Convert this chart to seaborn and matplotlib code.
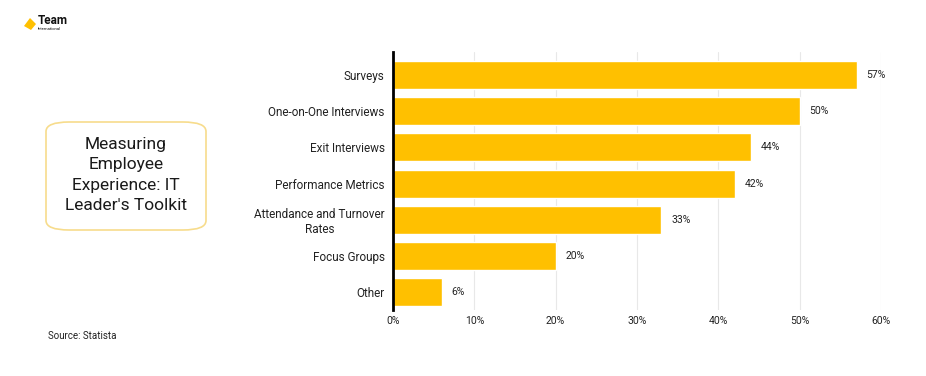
import matplotlib
matplotlib.use("Agg")
import matplotlib.pyplot as plt
from matplotlib.patches import FancyBboxPatch, Polygon
import seaborn as sns
import pandas as pd

categories = ["Surveys", "One-on-One Interviews", "Exit Interviews", "Performance Metrics",
              "Attendance and Turnover\nRates", "Focus Groups", "Other"]
values = [57, 50, 44, 42, 33, 20, 6]
xticks = [0, 10, 20, 30, 40, 50, 60]
xtick_labels = ["0%", "10%", "20%", "30%", "40%", "50%", "60%"]
title = "Measuring\nEmployee\nExperience: IT\nLeader's Toolkit"
source = "Source: Statista"

sns.set_theme(style="white")
plt.rcParams['font.family'] = ['Roboto', 'DejaVu Sans']

df = pd.DataFrame({"cat": categories, "val": values})
bar_color = "#FFC000"

fig = plt.figure(figsize=(9.26, 3.76), dpi=100)
fig.patch.set_facecolor("white")
ax = fig.add_axes([393/926, 1-310/376, (881-393)/926, (310-52)/376])

sns.barplot(data=df, x="val", y="cat", color=bar_color, width=0.775, ax=ax, saturation=1)
ax.set_xlim(0, 60)
ax.set_ylim(6.5, -0.64)
ax.set_xticks(xticks)
ax.set_xticklabels(xtick_labels, fontsize=7.5, color="#222222")
ax.tick_params(axis="y", labelsize=8.5, colors="#222222", length=0, pad=6)
ax.tick_params(axis="x", length=0, pad=4)
for lab in ax.get_yticklabels():
    lab.set_multialignment("center")
ax.set_xlabel("")
ax.set_ylabel("")
ax.grid(axis="x", color="#e8e8e8", linewidth=0.8)
ax.set_axisbelow(True)
for s in ["top", "right", "bottom"]:
    ax.spines[s].set_visible(False)
ax.spines["left"].set_color("black")
ax.spines["left"].set_linewidth(2)
ax.spines["left"].set_zorder(5)

for i, v in enumerate(values):
    ax.text(v + 1.2, i, f"{v}%", va="center", ha="left", fontsize=7.5, color="#222222")

# Title box
box = FancyBboxPatch((46/926, 1-230/376), (206-46)/926, (230-122)/376,
                     boxstyle="round,pad=0,rounding_size=0.025",
                     transform=fig.transFigure, facecolor="white",
                     edgecolor="#F7DC8C", linewidth=1.2)
fig.patches.append(box)
fig.text(126/926, 1-175/376, title, ha="center", va="center", fontsize=12.5,
         color="#1a1a1a", linespacing=1.42)

# Source
fig.text(48/926, 1-336/376, source, ha="left", va="center", fontsize=7, color="#222222")

# Logo
logo = Polygon([[24/926, 1-26/376], [30/926, 1-18/376], [36/926, 1-24/376], [31/926, 1-30/376]],
               closed=True, transform=fig.transFigure, facecolor=bar_color, edgecolor="none")
fig.patches.append(logo)
fig.text(38/926, 1-21/376, "Team", ha="left", va="center", fontsize=8.5, fontweight="bold", color="#111111")
fig.text(38/926, 1-29/376, "International", ha="left", va="center", fontsize=3, color="#111111")

fig.savefig("out.png", dpi=100, facecolor="white")
